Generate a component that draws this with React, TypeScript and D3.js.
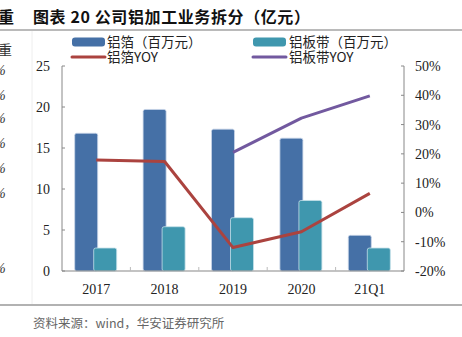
import React from "react";
import * as d3 from "d3";

const categories = ["2017", "2018", "2019", "2020", "21Q1"];
const foilValues = [16.8, 19.7, 17.3, 16.2, 4.35];
const stripValues = [2.8, 5.4, 6.5, 8.6, 2.8];
const foilYoy: (number | null)[] = [17.9, 17.4, -12.0, -6.6, 6.5];
const stripYoy: (number | null)[] = [null, null, 20.5, 32.2, 39.8];
const leftTicks = [0, 5, 10, 15, 20, 25];
const rightTicks = [-20, -10, 0, 10, 20, 30, 40, 50];

const W = 462;
const H = 337;
const X0 = 62;
const X1 = 404;
const Y0 = 271;
const Y1 = 66;

const C_FOIL = "#4570a6";
const C_STRIP = "#3f97ae";
const C_RED = "#ab433f";
const C_PURPLE = "#72599f";

export default function App() {
  const x = d3.scaleBand<string>().domain(categories).range([X0, X1]);
  const yL = d3.scaleLinear().domain([0, 25]).range([Y0, Y1]);
  const yR = d3.scaleLinear().domain([-20, 50]).range([Y0, Y1]);
  const bw = x.bandwidth();
  const barW = 23;

  const lineGen = d3
    .line<number | null>()
    .defined((d) => d !== null)
    .x((_, i) => (x(categories[i]) as number) + bw / 2)
    .y((d) => yR(d as number));

  const serif = "'Liberation Serif', 'DejaVu Serif', serif";
  const cjk = "'Noto Sans CJK SC', 'Noto Sans', sans-serif";
  const leftPct = [70, 95, 118, 143, 168, 193, 268];

  return (
    <svg
      width={W}
      height={H}
      style={{ position: "absolute", left: 0, top: 0, background: "#fff" }}
    >
      <rect x={0} y={0} width={W} height={H} fill="#fff" />
      {/* title */}
      <text x={-2} y={23} fontFamily={cjk} fontWeight="bold" fontSize={16} fill="#111">
        重
      </text>
      <text x={33} y={23} fontFamily={cjk} fontWeight="bold" fontSize={16} letterSpacing={0.6} fill="#111">
        图表 20 公司铝加工业务拆分（亿元）
      </text>
      <line x1={0} x2={W} y1={30} y2={30} stroke="#777" strokeWidth={1.2} />
      <line x1={32} x2={32} y1={31} y2={304} stroke="#eee" strokeWidth={1} />
      {/* left cropped residue */}
      <text x={-2} y={55} fontFamily={cjk} fontSize={14} fill="#333">
        重
      </text>
      {leftPct.map((yy, i) => (
        <text key={i} x={-6} y={yy + 5} fontFamily={serif} fontSize={14} fontStyle="italic" fill="#333">
          %
        </text>
      ))}

      {/* legend */}
      <rect x={72} y={37.5} width={33} height={9} rx={3} fill={C_FOIL} />
      <text x={107} y={46.5} fontFamily={cjk} fontSize={13.5} fill="#222">
        铝箔（百万元）
      </text>
      <line x1={72} x2={105} y1={57} y2={57} stroke={C_RED} strokeWidth={3} strokeLinecap="round" />
      <text x={107} y={62} fontFamily={cjk} fontSize={13.5} fill="#222">
        铝箔YOY
      </text>
      <rect x={253} y={37.5} width={33} height={9} rx={3} fill={C_STRIP} />
      <text x={289} y={46.5} fontFamily={cjk} fontSize={13.5} fill="#222">
        铝板带（百万元）
      </text>
      <line x1={253} x2={286} y1={57} y2={57} stroke={C_PURPLE} strokeWidth={3} strokeLinecap="round" />
      <text x={289} y={62} fontFamily={cjk} fontSize={13.5} fill="#222">
        铝板带YOY
      </text>

      {/* axes */}
      <line x1={X0} x2={X0} y1={Y1} y2={Y0} stroke="#888" strokeWidth={1} />
      <line x1={X1} x2={X1} y1={Y1} y2={Y0} stroke="#888" strokeWidth={1} />
      {leftTicks.map((t) => (
        <g key={"l" + t}>
          <line x1={X0} x2={X0 + 3} y1={yL(t)} y2={yL(t)} stroke="#888" />
          <text
            x={50}
            y={yL(t) + 5}
            textAnchor="end"
            fontFamily={serif}
            fontSize={14}
            fill="#222"
          >
            {t}
          </text>
        </g>
      ))}
      {rightTicks.map((t) => (
        <g key={"r" + t}>
          <line x1={X1 - 3} x2={X1} y1={yR(t)} y2={yR(t)} stroke="#888" />
          <text x={415} y={yR(t) + 5} fontFamily={serif} fontSize={14} fill="#222">
            {t + "%"}
          </text>
        </g>
      ))}

      {/* bars */}
      {categories.map((c, i) => {
        const cx = (x(c) as number) + bw / 2;
        return (
          <g key={c}>
            <rect
              x={cx - 21.5}
              y={yL(foilValues[i])}
              width={barW}
              height={Y0 - yL(foilValues[i])}
              rx={2}
              fill={C_FOIL}
              stroke="#c9d6e8"
              strokeWidth={0.8}
            />
            <rect
              x={cx - 2.5}
              y={yL(stripValues[i])}
              width={barW}
              height={Y0 - yL(stripValues[i])}
              rx={2}
              fill={C_STRIP}
              stroke="#c4e0e8"
              strokeWidth={0.8}
            />
          </g>
        );
      })}

      <line x1={X0} x2={X1} y1={Y0} y2={Y0} stroke="#888" strokeWidth={1.2} />
      {categories.slice(1).map((c) => (
        <line
          key={"bt" + c}
          x1={x(c) as number}
          x2={x(c) as number}
          y1={Y0}
          y2={Y0 - 4}
          stroke="#bbb"
        />
      ))}
      {categories.map((c) => (
        <text
          key={"xl" + c}
          x={(x(c) as number) + bw / 2}
          y={294}
          textAnchor="middle"
          fontFamily={serif}
          fontSize={14}
          fill="#222"
        >
          {c}
        </text>
      ))}

      {/* lines */}
      <path d={lineGen(foilYoy) || ""} fill="none" stroke={C_RED} strokeWidth={3} strokeLinejoin="round" />
      <path d={lineGen(stripYoy) || ""} fill="none" stroke={C_PURPLE} strokeWidth={3} strokeLinejoin="round" />

      {/* footer */}
      <line x1={0} x2={W} y1={305} y2={305} stroke="#666" strokeWidth={1.2} />
      <text x={33} y={328} fontFamily={cjk} fontSize={12.5} fill="#666">
        资料来源：wind，华安证券研究所
      </text>
    </svg>
  );
}
